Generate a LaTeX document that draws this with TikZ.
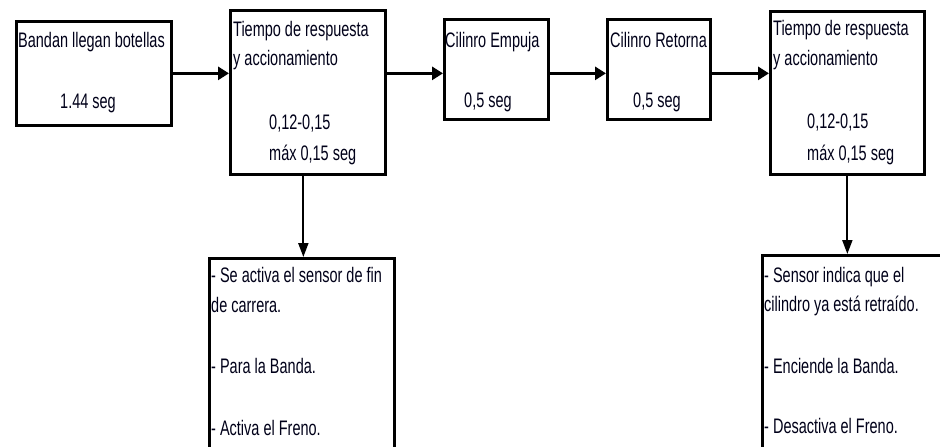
\documentclass[tikz,border=0pt]{standalone}
\usepackage{fontspec}
\setmainfont{Liberation Sans}[FakeStretch=0.69]
\usetikzlibrary{arrows.meta}
\begin{document}
\begin{tikzpicture}[x=1pt,y=-1pt,
  box/.style={draw,line width=2.7pt,inner sep=0pt,anchor=north west},
  txt/.style={anchor=base west,inner sep=0pt,text=black!90!blue,font=\fontsize{21}{25}\selectfont},
  harr/.style={line width=3pt,-{Triangle[length=11pt,width=13pt]}},
  varr/.style={line width=2pt,-{Triangle[length=14pt,width=10pt]}}]
\clip (0,0) rectangle (940,447);
\fill[white] (0,0) rectangle (940,447);
% boxes
\node[box,minimum width=155pt,minimum height=104pt] (b1) at (15,20) {};
\node[box,minimum width=155pt,minimum height=164pt] (b2) at (229,9) {};
\node[box,minimum width=104pt,minimum height=100pt] (b3) at (443,18) {};
\node[box,minimum width=103pt,minimum height=100pt] (b4) at (606,18) {};
\node[box,minimum width=154pt,minimum height=163pt] (b5) at (769,10) {};
\node[box,minimum width=185pt,minimum height=215pt] (b6) at (208,257) {};
\node[box,minimum width=200pt,minimum height=215pt] (b7) at (761,254) {};
% texts
\node[txt] (t1a) at (18,47) {Bandan llegan botellas};
\node[txt] (t1b) at (60,108) {1.44 seg};
\node[txt] (t2a) at (233,36) {Tiempo de respuesta};
\node[txt] (t2b) at (233,65) {y accionamiento};
\node[txt] (t2c) at (269,129) {0,12-0,15};
\node[txt] (t2d) at (269,160) {máx 0,15 seg};
\node[txt] (t3a) at (445,47) {Cilinro Empuja};
\node[txt] (t3b) at (464,107) {0,5 seg};
\node[txt] (t4a) at (610,47) {Cilinro Retorna};
\node[txt] (t4b) at (633,107) {0,5 seg};
\node[txt] (t5a) at (773,35) {Tiempo de respuesta};
\node[txt] (t5b) at (773,65) {y accionamiento};
\node[txt] (t5c) at (807,128) {0,12-0,15};
\node[txt] (t5d) at (807,160) {máx 0,15 seg};
\node[txt] (t6a) at (211,282) {- Se activa el sensor de fin};
\node[txt] (t6b) at (211,312) {de carrera.};
\node[txt] (t6c) at (211,373) {- Para la Banda.};
\node[txt] (t6d) at (211,435) {- Activa el Freno.};
\node[txt] (t7a) at (764,282) {- Sensor indica que el};
\node[txt] (t7b) at (764,311) {cilindro ya está retraído.};
\node[txt] (t7c) at (764,373) {- Enciende la Banda.};
\node[txt] (t7d) at (764,433) {- Desactiva el Freno.};
% connectors
\draw[harr] (b1.east) -- (b1.east -| b2.west);
\draw[harr] (b1.east -| b2.east) -- (b1.east -| b3.west);
\draw[harr] (b1.east -| b3.east) -- (b1.east -| b4.west);
\draw[harr] (b1.east -| b4.east) -- (b1.east -| b5.west);
\draw[varr] ([xshift=-4.5pt]b2.south) -- ([xshift=-4.5pt]b2.south |- b6.north);
\draw[varr] (b5.south) -- (b5.south |- b7.north);
\end{tikzpicture}
\end{document}
